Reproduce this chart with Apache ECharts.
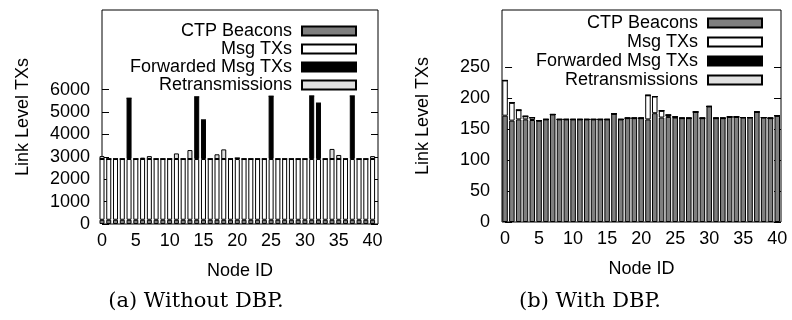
<!DOCTYPE html>
<html>
<head>
<meta charset="utf-8">
<script src="https://cdn.jsdelivr.net/npm/echarts@6/dist/echarts.min.js"></script>
<style>
html, body { margin: 0; padding: 0; background: #fff; }
#main { width: 792px; height: 320px; }
</style>
</head>
<body>
<div id="main"></div>
<script>
// node ids on the x axis
var nodes = [0,1,2,3,4,5,6,7,8,9,10,11,12,13,14,15,16,17,18,19,20,
             21,22,23,24,25,26,27,28,29,30,31,32,33,34,35,36,37,38,39,40];
var seriesNames = ['CTP Beacons', 'Msg TXs', 'Forwarded Msg TXs', 'Retransmissions'];
var xTicks = [0,5,10,15,20,25,30,35,40];
var yTicksA = [0,1000,2000,3000,4000,5000,6000];
var yTicksB = [0,50,100,150,200,250];

// (a) without DBP
var beaconsA = [190,190,190,190,190,190,190,190,190,190,190,190,190,190,190,190,190,190,190,190,190,
                190,190,190,190,190,190,190,190,190,190,190,190,190,190,190,190,190,190,190,190];
var msgA     = [2710,2710,2710,2710,2710,2710,2710,2710,2710,2710,2710,2710,2710,2710,2710,2710,2710,2710,2710,2710,2710,
                2710,2710,2710,2710,2710,2710,2710,2710,2710,2710,2710,2710,2710,2710,2710,2710,2710,2710,2710,2710];
var fwdA     = [0,0,0,0,2710,0,0,0,0,0,0,0,0,0,2770,1740,0,0,0,0,40,
                0,0,0,0,2800,0,0,0,0,0,2810,2490,0,0,0,0,2810,0,0,0];
var retrA    = [130,0,0,0,0,0,60,130,0,0,0,250,0,400,0,0,0,210,430,0,0,
                0,0,0,0,0,0,0,0,0,0,0,0,0,450,180,0,0,0,0,130];

// (b) with DBP
var beaconsB = [172,164,166,166,165,164,166,174,166,166,166,166,166,166,166,166,175,166,168,168,168,
                166,176,169,170,169,168,168,178,168,187,168,168,170,170,169,169,178,169,168,172];
var msgB     = [57,29,15,5,4,0,0,0,0,0,0,0,0,0,0,0,0,0,0,0,0,
                39,27,11,3,1,0,0,0,0,0,0,0,0,0,0,0,0,0,0,0];
var fwdB     = [0,0,0,0,0,0,0,0,0,0,0,0,0,0,0,0,0,0,0,0,0,
                0,0,0,0,0,0,0,0,0,0,0,0,0,0,0,0,0,0,0,0];
var retrB    = [0,0,0,0,0,0,0,0,0,0,0,0,0,0,0,0,0,0,0,0,0,
                0,0,0,0,0,0,0,0,0,0,0,0,0,0,0,0,0,0,0,0];

var colors = ['#7f7f7f', '#ffffff', '#000000', '#e0e0e0'];
var font = 'Liberation Sans';

// value first, node second, so the stack runs along y
function pairs(arr) {
    return nodes.map(function (n, i) { return [arr[i], n]; });
}

function bars(name, arr, gi, color, w) {
    return {
        name: name,
        type: 'bar',
        stack: 'g' + gi,
        xAxisIndex: gi,
        yAxisIndex: gi * 2,
        barWidth: w,
        clip: true,
        encode: { x: 1, y: 0 },
        itemStyle: { color: color, borderColor: '#000', borderWidth: 1 },
        data: pairs(arr)
    };
}

function xAx(gi, min, max) {
    return {
        gridIndex: gi, type: 'value', min: min, max: max,
        axisLine: { show: false }, axisTick: { show: false }, splitLine: { show: false },
        axisLabel: { customValues: xTicks, fontSize: 18, color: '#000', fontFamily: font, margin: 8 },
        name: 'Node ID', nameLocation: 'middle', nameGap: 38,
        nameTextStyle: { fontSize: 18, color: '#000', fontFamily: font }
    };
}

function yAx(gi, max, ticks) {
    return {
        gridIndex: gi, type: 'value', min: 0, max: max,
        axisLine: { show: false }, splitLine: { show: false },
        axisTick: { inside: true, length: 7, customValues: ticks, lineStyle: { color: '#000' } },
        axisLabel: { customValues: ticks, fontSize: 18, color: '#000', fontFamily: font, margin: 12,
                     formatter: function (v) { return String(v); } },
        name: 'Link Level TXs', nameLocation: 'middle', nameGap: 70, nameRotate: 90,
        nameTextStyle: { fontSize: 18, color: '#000', fontFamily: font }
    };
}

function yMirror(gi, max, ticks) {
    return {
        gridIndex: gi, type: 'value', min: 0, max: max, position: 'right',
        axisLine: { show: false }, splitLine: { show: false },
        axisTick: { inside: true, length: 7, customValues: ticks, lineStyle: { color: '#000' } },
        axisLabel: { show: false }
    };
}

function legendAt(top, right, gap) {
    return {
        orient: 'vertical', align: 'right', top: top, right: right, padding: 0,
        itemWidth: 54, itemHeight: 9, itemGap: gap, icon: 'rect',
        selectedMode: false, data: seriesNames,
        textStyle: { fontSize: 18, color: '#000', fontFamily: font, lineHeight: 18, padding: [0, 5, 0, 0] }
    };
}

var myChart = echarts.init(document.getElementById('main'));

var option = {
    animation: false,
    backgroundColor: '#fff',
    grid: [
        { left: 102, top: 10, width: 276, height: 214, show: true, borderColor: '#000', borderWidth: 1 },
        { left: 502, top: 10, width: 279, height: 212, show: true, borderColor: '#000', borderWidth: 1 }
    ],
    xAxis: [xAx(0, 0, 40.8), xAx(1, -0.45, 40.55)],
    yAxis: [yAx(0, 9550, yTicksA), yMirror(0, 9550, yTicksA), yAx(1, 343, yTicksB), yMirror(1, 343, yTicksB)],
    legend: [legendAt(22, 435, 0), legendAt(14, 29, 1)],
    graphic: [
        { type: 'text', x: 196, y: 302,
          style: { text: '(a) Without DBP.', font: '21px "DejaVu Serif"', fill: '#000', align: 'center', verticalAlign: 'middle' } },
        { type: 'text', x: 590, y: 302,
          style: { text: '(b) With DBP.', font: '21px "DejaVu Serif"', fill: '#000', align: 'center', verticalAlign: 'middle' } }
    ],
    series: [
        bars(seriesNames[0], beaconsA, 0, colors[0], 5),
        bars(seriesNames[1], msgA, 0, colors[1], 5),
        bars(seriesNames[2], fwdA, 0, colors[2], 5),
        bars(seriesNames[3], retrA, 0, colors[3], 5),
        bars(seriesNames[0], beaconsB, 1, colors[0], 5.5),
        bars(seriesNames[1], msgB, 1, colors[1], 5.5),
        bars(seriesNames[2], fwdB, 1, colors[2], 5.5),
        bars(seriesNames[3], retrB, 1, colors[3], 5.5)
    ]
};

myChart.setOption(option);
</script>
</body>
</html>
